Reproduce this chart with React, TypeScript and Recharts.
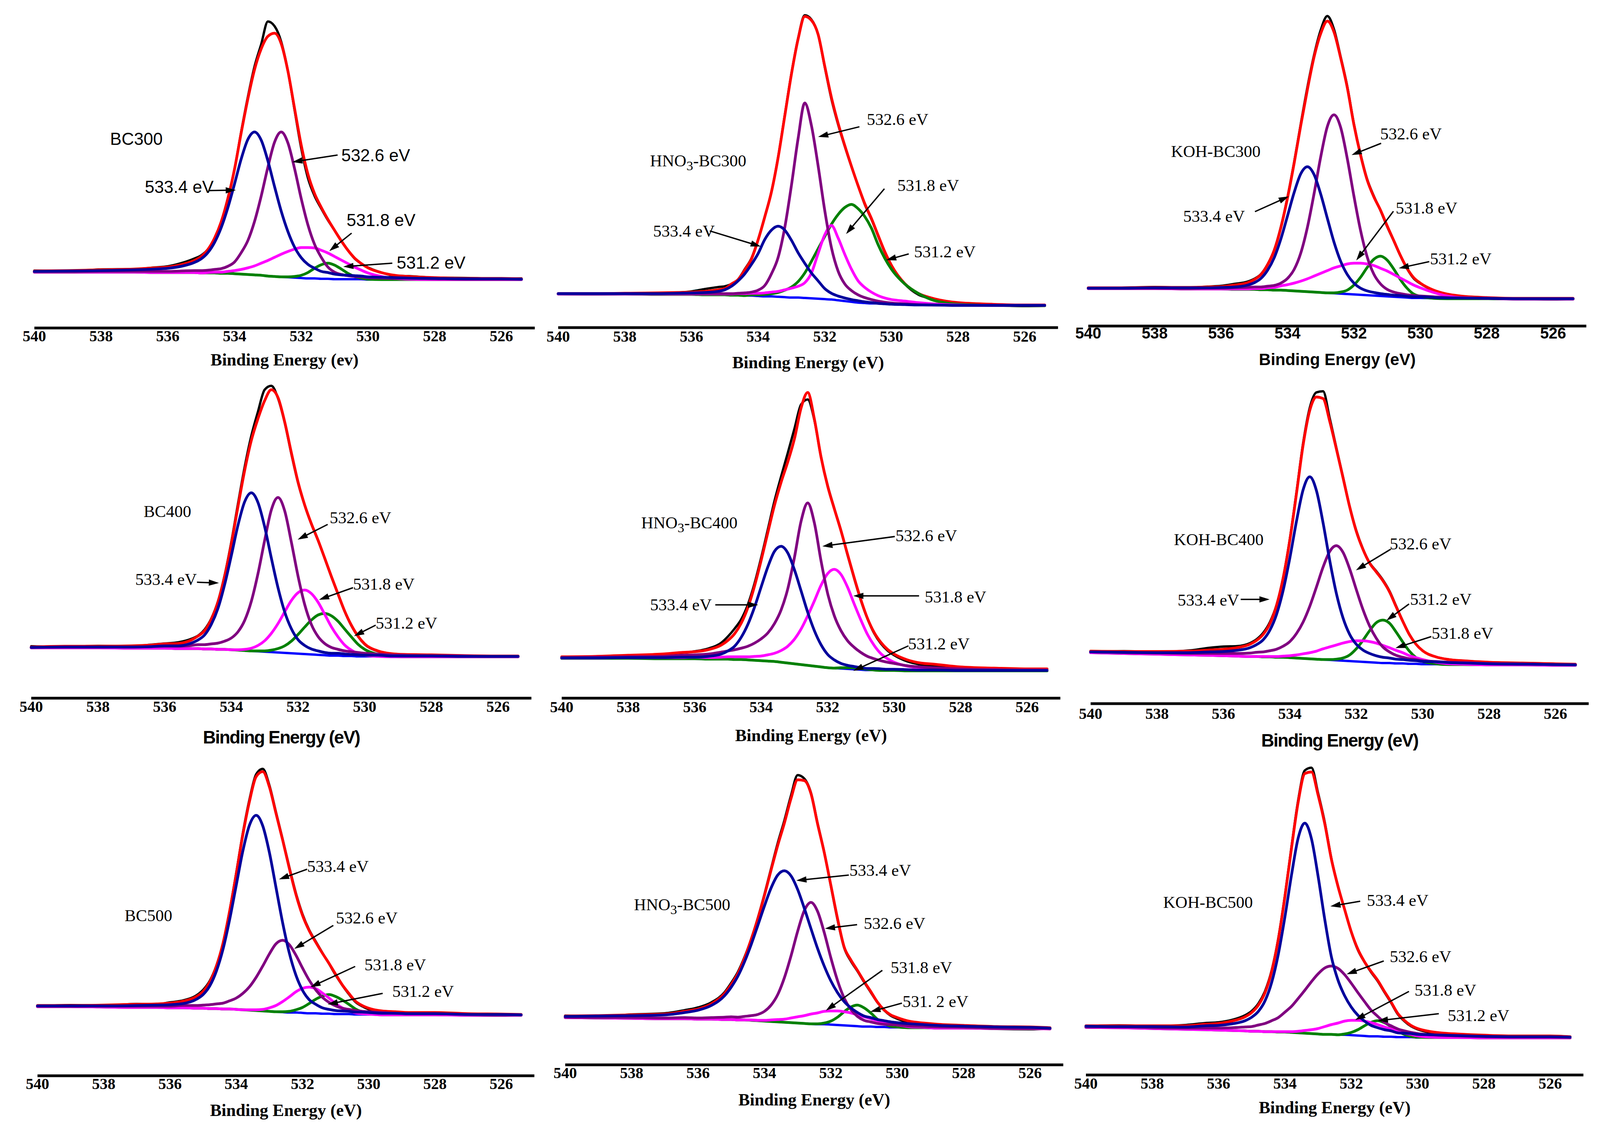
import React from 'react';
import { LineChart, Line, XAxis, YAxis, ReferenceLine, ReferenceDot } from 'recharts';

// ---------- shared axis values ----------
const X_GRID = [540, 539, 538, 537, 536.4, 536, 535.6, 535.2, 535, 534.8, 534.6, 534.4, 534.2, 534, 533.8, 533.6, 533.4, 533.2, 533, 532.8, 532.6, 532.4, 532.2, 532, 531.8, 531.6, 531.4, 531.2, 531, 530.8, 530.6, 530.4, 530.2, 530, 529.6, 529.2, 528.8, 528, 527, 526, 525.4];
const TICKS = [540, 538, 536, 534, 532, 530, 528, 526];

// ---------- BC300 ----------
const BC300_raw = [147,146,150,151,155,158,166,178,186,201,228,272,333,407,503,592,670,727,785,773,733,658,558,460,384,338,306,276,250,224,199,178,165,155,142,134,133,129,128,126,127];
const BC300_fit = [146,147,149,151,154,156,162,173,183,201,230,272,331,407,500,587,662,715,747,755,728,658,562,468,394,344,309,278,250,223,199,179,165,154,142,135,132,129,127,127,126];
const BC300_base = [143,143,143,143,142,142,142,142,141,141,141,140,140,139,138,137,136,135,133,132,131,130,129,128,127,127,126,126,125,125,125,125,125,124,124,124,124,124,124,124,124];
const BC300_c5334 = [145,146,147,149,151,153,158,168,177,193,219,257,308,369,433,483,502,481,428,362,299,247,207,180,163,153,145,142,138,136,135,134,133,131,130,129,128,127,126,126,125];
const BC300_c5326 = [144,144,145,145,145,145,146,147,147,148,150,152,158,169,193,224,273,338,412,476,502,474,408,331,264,214,181,156,143,137,134,132,131,129,128,127,127,126,125,125,125];
const BC300_c5318 = [143,143,143,143,142,142,142,142,141,142,143,143,145,147,150,154,159,166,173,181,189,196,202,206,206,205,199,192,183,174,165,156,148,141,132,127,125,124,124,124,124];
const BC300_c5312 = [143,143,143,143,142,142,142,142,141,141,141,140,140,139,138,137,136,135,133,132,131,131,132,135,142,153,162,166,161,151,140,132,128,125,124,124,124,124,124,124,124];

// ---------- HNO3-BC300 ----------
const HNO3BC300_raw = [86,85,86,88,90,93,99,104,106,112,124,150,178,226,285,349,437,545,652,742,801,790,752,668,586,521,465,413,364,316,278,235,193,158,112,85,74,62,58,55,56];
const HNO3BC300_fit = [87,87,88,89,90,91,93,97,100,112,123,148,176,225,284,348,436,543,650,740,798,788,752,670,590,524,467,414,364,318,280,237,195,160,113,88,76,64,60,58,58];
const HNO3BC300_base = [86,86,86,85,85,85,84,84,84,83,83,82,82,81,80,80,79,78,77,77,76,75,74,73,72,70,68,66,64,63,62,62,61,61,60,59,59,58,57,57,57];
const HNO3BC300_c5334 = [87,87,87,87,88,89,90,93,97,106,120,138,162,190,226,250,260,250,224,192,165,140,120,100,88,81,76,72,69,66,64,62,61,60,59,58,58,57,57,57,57];
const HNO3BC300_c5326 = [87,87,87,87,87,87,87,87,87,87,88,89,91,96,108,138,180,257,365,485,576,518,415,300,205,145,112,95,84,77,72,68,65,63,61,59,58,57,57,57,57];
const HNO3BC300_c5318 = [86,86,86,86,86,86,86,86,86,86,87,87,88,88,89,91,93,97,101,106,115,140,190,238,262,230,188,150,120,103,91,82,76,72,68,64,61,58,57,57,57];
const HNO3BC300_c5312 = [86,86,86,85,85,85,84,84,84,83,83,82,84,84,85,87,90,96,104,118,140,170,202,234,265,290,308,316,305,285,255,213,178,150,112,88,72,60,57,56,56];

// ---------- KOH-BC300 ----------
const KOHBC300_raw = [97,98,100,98,101,103,108,114,121,133,158,195,254,330,420,518,612,694,758,794,760,690,614,518,440,376,333,296,255,218,180,147,122,109,91,81,76,72,70,68,70];
const KOHBC300_fit = [98,98,99,99,100,101,105,111,119,132,157,194,252,328,417,514,606,689,749,781,753,687,611,516,438,374,331,297,257,219,181,148,124,110,92,82,77,73,71,71,71];
const KOHBC300_base = [96,96,96,95,95,95,94,94,94,93,93,92,92,91,90,89,88,87,86,85,84,83,82,81,80,79,78,77,76,75,74,73,72,72,71,70,70,70,69,69,69];
const KOHBC300_c5334 = [97,97,98,98,98,99,100,105,111,122,143,175,223,282,342,390,408,388,338,276,215,166,132,110,97,90,86,83,81,79,78,76,75,75,73,72,72,71,70,70,70];
const KOHBC300_c5326 = [97,97,97,96,97,97,98,99,100,100,102,104,110,122,145,187,253,339,433,511,541,509,429,333,245,177,133,108,94,87,83,80,78,77,75,73,72,71,70,70,70];
const KOHBC300_c5318 = [96,96,96,95,95,95,95,95,96,96,98,99,103,106,110,115,121,128,135,142,149,154,159,161,161,159,155,148,141,132,123,114,105,98,86,77,73,71,69,69,69];
const KOHBC300_c5312 = [96,96,96,95,95,95,94,94,94,93,93,92,92,91,90,89,88,87,86,85,85,87,92,105,125,150,171,179,169,146,119,97,82,76,71,70,70,70,69,69,69];

// ---------- BC400 ----------
const BC400_raw = [133,131,134,133,137,140,143,152,160,176,204,248,315,400,498,592,672,734,790,800,768,706,626,552,494,446,404,358,311,266,222,186,158,138,120,113,111,110,109,107,108];
const BC400_fit = [131,133,133,134,136,139,140,149,159,173,202,246,312,395,491,583,660,716,762,790,770,708,629,554,495,447,405,359,312,267,223,187,159,139,121,114,112,111,109,108,108];
const BC400_base = [129,129,129,128,128,128,127,127,127,126,126,125,125,124,123,122,121,120,119,118,117,116,115,114,113,112,111,110,109,109,108,108,107,107,107,106,106,106,106,106,106];
const BC400_c5334 = [130,131,131,131,132,134,134,141,149,162,189,230,291,365,443,503,526,501,439,359,283,221,178,150,135,126,121,117,115,115,113,112,111,110,110,108,108,108,107,107,107];
const BC400_c5326 = [130,131,131,131,132,133,133,135,137,137,139,141,146,154,170,199,248,319,404,482,514,480,400,313,240,189,158,140,130,125,121,119,117,115,113,111,110,109,108,107,107];
const BC400_c5318 = [129,129,129,128,128,128,127,127,127,126,126,125,125,124,124,125,128,135,147,166,191,221,250,270,277,268,246,215,183,157,136,123,114,110,107,106,106,106,106,106,106];
const BC400_c5312 = [129,129,129,128,128,128,127,127,127,126,126,125,125,124,123,122,121,121,121,123,127,134,146,163,182,200,213,217,211,197,177,157,138,125,112,107,106,106,106,106,106];

// ---------- HNO3-BC400 ----------
const HNO3BC400_raw = [104,106,108,112,116,120,127,142,158,178,202,240,294,360,432,505,568,628,690,752,765,712,618,545,486,430,366,306,250,203,166,140,122,110,94,86,82,76,72,70,72];
const HNO3BC400_fit = [106,107,110,113,117,119,124,136,148,165,192,232,287,353,424,494,553,605,664,743,783,715,618,543,485,429,368,308,252,204,168,143,125,113,98,90,87,80,77,75,75];
const HNO3BC400_base = [102,102,102,101,101,101,100,100,100,99,99,98,97,96,95,94,92,90,88,86,84,82,80,78,77,76,75,74,73,72,72,71,71,71,70,70,70,70,70,70,70];
const HNO3BC400_c5334 = [103,103,104,104,105,105,107,113,121,133,156,189,233,285,336,376,389,372,329,275,220,173,137,112,98,89,84,81,78,76,76,75,74,74,73,72,72,71,71,71,71];
const HNO3BC400_c5326 = [104,105,106,107,110,111,113,118,121,124,128,133,141,152,167,191,226,280,360,453,500,449,352,268,211,173,147,130,117,107,101,96,92,89,83,80,78,75,73,72,72];
const HNO3BC400_c5318 = [103,103,104,104,104,105,104,105,106,106,106,106,107,108,111,115,122,133,151,177,211,249,289,319,330,317,284,241,200,163,135,114,101,92,82,78,77,74,73,72,72];
const HNO3BC400_c5312 = [102,102,102,101,101,101,100,100,100,99,99,98,97,96,95,94,92,90,88,86,84,82,80,78,77,78,78,78,76,74,72,71,71,71,70,70,70,70,70,70,70];

// ---------- KOH-BC400 ----------
const KOHBC400_raw = [136,137,135,139,146,149,150,158,168,185,213,258,330,430,552,680,772,812,815,745,668,592,515,452,404,368,346,323,294,255,216,181,155,138,122,115,112,108,106,104,102];
const KOHBC400_fit = [137,136,136,137,140,142,146,155,165,181,209,256,328,427,548,675,765,800,796,737,665,590,514,450,403,367,344,321,292,253,215,180,155,138,122,115,112,108,106,104,103];
const KOHBC400_base = [133,131,129,127,126,125,124,123,123,122,122,121,121,120,119,118,117,116,115,114,113,112,111,110,109,108,107,106,106,105,105,104,104,103,103,102,102,101,101,100,100];
const KOHBC400_c5334 = [135,134,133,133,135,136,139,146,154,167,192,233,296,380,476,558,592,556,472,374,288,224,181,155,140,131,125,121,119,116,115,113,112,110,109,107,106,104,103,102,101];
const KOHBC400_c5326 = [135,133,132,131,131,131,131,132,134,135,138,142,150,162,183,213,254,304,356,397,412,395,352,298,246,203,171,148,135,126,121,117,115,112,110,108,107,105,104,102,102];
const KOHBC400_c5318 = [133,131,129,127,126,125,124,123,123,123,123,123,124,125,127,130,133,137,143,148,153,158,162,164,164,162,158,152,146,139,133,125,120,115,108,104,103,101,101,100,100];
const KOHBC400_c5312 = [133,131,129,127,126,125,124,123,123,122,122,121,121,120,119,118,117,116,115,115,116,119,127,143,165,190,211,218,210,187,161,137,120,110,104,102,102,101,101,100,100];

// ---------- BC500 ----------
const BC500_raw = [178,181,180,184,183,188,193,206,220,243,282,340,423,520,622,708,772,786,744,675,606,535,468,414,374,344,315,287,258,232,209,189,178,170,163,161,160,158,155,154,156];
const BC500_fit = [180,180,181,183,184,186,191,203,216,240,280,339,421,517,618,703,766,779,740,672,604,532,465,411,372,342,314,288,260,233,211,191,180,173,166,164,162,162,159,158,157];
const BC500_base = [177,177,176,175,175,174,174,173,173,172,172,171,171,170,169,168,167,166,165,164,163,162,162,161,160,160,159,159,158,158,158,157,157,157,156,156,156,156,155,155,155];
const BC500_c5334 = [179,179,179,180,181,182,185,196,208,230,268,324,400,488,576,642,667,640,572,482,392,315,258,219,195,183,174,170,167,166,165,163,163,162,160,160,159,159,157,157,156];
const BC500_c5326 = [178,178,178,178,178,178,180,180,181,182,184,186,192,199,211,228,252,281,312,338,347,336,309,276,245,220,201,188,179,173,170,167,165,164,162,160,159,159,157,156,156];
const BC500_c5318 = [177,177,176,175,175,174,174,173,173,172,172,171,171,170,169,169,169,170,174,180,190,202,215,224,227,223,212,199,185,174,167,161,159,158,156,156,156,156,155,155,155];
const BC500_c5312 = [177,177,176,175,175,174,174,173,173,172,172,171,171,170,169,168,167,166,165,164,164,165,169,175,185,196,204,208,203,194,183,171,164,160,156,156,156,156,155,155,155];

// ---------- HNO3-BC500 ----------
const HNO3BC500_raw = [126,124,129,132,140,147,160,186,210,238,276,322,376,437,503,568,626,690,742,733,697,619,545,458,372,300,266,240,212,186,160,140,126,118,107,103,99,96,92,91,93];
const HNO3BC500_fit = [125,126,128,130,137,143,156,183,206,234,273,321,374,434,499,562,619,682,730,728,695,617,544,460,375,302,269,242,214,188,161,141,128,121,111,107,104,101,98,97,95];
const HNO3BC500_base = [121,120,119,118,118,117,117,116,116,115,115,114,113,112,111,110,109,108,107,106,105,104,104,103,102,101,100,99,98,98,97,97,96,96,95,95,94,94,93,93,92];
const HNO3BC500_c5334 = [124,125,126,128,134,140,152,177,199,227,264,308,357,407,453,486,497,484,449,401,349,298,253,215,185,162,146,134,125,121,116,113,110,108,105,103,101,99,97,96,94];
const HNO3BC500_c5326 = [122,121,121,120,121,120,121,122,123,122,124,126,129,137,153,180,223,279,342,395,416,393,339,274,216,171,142,124,114,110,106,104,103,102,99,98,97,96,94,94,93];
const HNO3BC500_c5318 = [121,120,119,118,118,117,117,116,116,115,115,115,114,114,115,116,117,120,123,126,130,133,137,138,138,136,133,128,123,118,113,109,104,102,97,96,94,94,93,93,92];
const HNO3BC500_c5312 = [121,120,119,118,118,117,117,116,116,115,115,114,113,112,111,110,109,108,107,106,105,105,107,112,122,136,148,153,146,133,117,106,99,97,95,95,94,94,93,93,92];

// ---------- KOH-BC500 ----------
const KOHBC500_raw = [125,127,125,128,133,135,141,153,164,183,215,268,350,460,586,704,780,787,722,648,555,484,424,366,320,289,263,240,212,185,156,138,125,117,108,104,102,99,96,95,97];
const KOHBC500_fit = [126,126,126,126,130,132,138,149,160,179,211,265,347,457,582,699,772,776,717,644,553,483,424,367,322,290,265,242,214,187,158,140,127,119,111,107,105,102,100,100,98];
const KOHBC500_base = [122,121,119,117,116,115,114,113,112,112,111,111,110,110,109,108,107,106,105,104,104,103,103,102,101,100,99,99,98,98,97,97,97,96,96,96,96,95,95,95,95];
const KOHBC500_c5334 = [125,124,124,123,126,127,131,139,148,163,190,237,309,405,513,607,645,605,509,399,303,243,203,174,153,138,127,121,116,113,108,107,106,104,103,102,101,99,98,98,97];
const KOHBC500_c5326 = [123,123,121,120,120,120,121,123,124,128,132,139,147,161,176,196,217,239,259,274,279,273,257,235,211,188,166,150,135,126,118,113,109,106,103,101,100,98,97,97,96];
const KOHBC500_c5318 = [122,121,119,117,116,115,114,113,112,112,111,111,111,111,111,112,114,116,119,124,129,133,138,140,140,138,134,129,123,118,111,107,104,100,97,96,96,95,95,95,95];
const KOHBC500_c5312 = [122,121,119,117,116,115,114,113,112,112,111,111,110,110,109,108,107,106,105,104,104,103,105,109,116,126,135,139,134,124,112,104,99,97,96,96,96,95,95,95,95];

// ---------- annotations (data coordinates: eV, intensity) ----------
const BC300_labels = [['BC300', 537.73, 485], ['533.4 eV', 536.69, 362], ['532.6 eV', 530.8, 443], ['531.8 eV', 530.64, 277], ['531.2 eV', 529.14, 168]];
const BC300_arrows = [[534.77, 352, 533.96, 353], [530.91, 443, 532.27, 425], [530.49, 243, 531.16, 197], [529.27, 166, 530.74, 157]];
const HNO3BC300_labels = [['HNO3-BC300', 537.245, 429], ['532.6 eV', 530.74, 534], ['531.8 eV', 529.82, 365], ['533.4 eV', 537.15, 248], ['531.2 eV', 529.32, 195]];
const HNO3BC300_arrows = [[530.96, 515, 532.2, 489], [530.21, 356, 531.36, 240], [535.45, 248, 533.92, 208], [529.48, 189, 530.16, 173]];
const KOHBC300_labels = [['KOH-BC300', 537.51, 448], ['532.6 eV', 531.21, 493], ['533.4 eV', 537.14, 282], ['531.8 eV', 530.74, 303], ['531.2 eV', 529.71, 173]];
const KOHBC300_arrows = [[531.18, 468, 532.07, 438], [534.98, 293, 533.96, 332], [530.81, 294, 531.93, 168], [529.73, 165, 530.65, 148]];
const BC400_labels = [['BC400', 536.63, 478], ['532.6 eV', 531.05, 462], ['533.4 eV', 536.88, 304], ['531.8 eV', 530.35, 292], ['531.2 eV', 529.67, 192]];
const BC400_arrows = [[531.11, 445, 532.01, 406], [535.03, 297, 534.37, 295], [530.35, 283, 531.37, 252], [529.67, 187, 530.32, 159]];
const HNO3BC400_labels = [['HNO3-BC400', 537.61, 450], ['532.6 eV', 529.96, 417], ['533.4 eV', 537.34, 240], ['531.8 eV', 529.08, 260], ['531.2 eV', 529.58, 140]];
const HNO3BC400_arrows = [[529.98, 414, 532.16, 389], [535.38, 239, 534.09, 239], [529.25, 262, 531.23, 262], [529.57, 134, 531.23, 70]];
const KOHBC400_labels = [['KOH-BC400', 537.49, 428], ['532.6 eV', 530.99, 417], ['533.4 eV', 537.38, 270], ['531.2 eV', 530.38, 273], ['531.8 eV', 529.73, 184]];
const KOHBC400_arrows = [[530.96, 403, 532.01, 348], [535.48, 272, 534.61, 272], [530.41, 260, 531.09, 217], [529.74, 175, 530.82, 145]];
const BC500_labels = [['BC500', 537.37, 411], ['533.4 eV', 531.86, 537], ['532.6 eV', 530.99, 405], ['531.8 eV', 530.13, 285], ['531.2 eV', 529.29, 217]];
const BC500_arrows = [[531.86, 529, 532.71, 503], [531.07, 385, 532.25, 325], [530.41, 280, 531.76, 227], [529.58, 211, 531.24, 183]];
const HNO3BC500_labels = [['HNO3-BC500', 537.93, 411], ['533.4 eV', 531.44, 499], ['532.6 eV', 531.01, 363], ['531.8 eV', 530.2, 250], ['531. 2 eV', 529.84, 163]];
const HNO3BC500_arrows = [[531.46, 486, 533.04, 472], [531.21, 359, 532.18, 349], [530.45, 242, 532.15, 139], [529.86, 158, 530.81, 136]];
const KOHBC500_labels = [['KOH-BC500', 537.67, 443], ['533.4 eV', 531.53, 448], ['532.6 eV', 530.84, 304], ['531.8 eV', 530.09, 218], ['531.2 eV', 529.09, 153]];
const KOHBC500_arrows = [[531.73, 445, 532.63, 432], [531.02, 292, 532.14, 258], [530.26, 214, 531.88, 141], [529.36, 157, 531.2, 139]];

// ---------- styles / layout ----------
const SERIF = '"Liberation Serif", "Times New Roman", Times, serif';
const SANS = '"Liberation Sans", Arial, Helvetica, sans-serif';
const Y_MAX = 800;
const ML = 70, MR = 70, MT = 10, XH = 140;

const SERIES_STYLE = [
  { key: 'raw', color: '#000000', width: 6 },
  { key: 'fit', color: '#ff0000', width: 7 },
  { key: 'base', color: '#0000ff', width: 6 },
  { key: 'c5312', color: '#008000', width: 7 },
  { key: 'c5318', color: '#ff00ff', width: 7 },
  { key: 'c5326', color: '#800080', width: 7 },
  { key: 'c5334', color: '#00009c', width: 7 },
];

const mk = (raw: number[], fit: number[], base: number[], c5334: number[], c5326: number[], c5318: number[], c5312: number[]) =>
  X_GRID.map((x, i) => ({ x, raw: raw[i], fit: fit[i], base: base[i], c5334: c5334[i], c5326: c5326[i], c5318: c5318[i], c5312: c5312[i] }));

const PANELS = [
  { rows: mk(BC300_raw, BC300_fit, BC300_base, BC300_c5334, BC300_c5326, BC300_c5318, BC300_c5312), labels: BC300_labels, arrows: BC300_arrows,
    x540: 87.5, ppe: 85.4, axisY: 840, tickFont: SERIF, tickDy: 20, title: 'Binding Energy (ev)', titleFont: SERIF, titleSize: 44, titleLs: 0, titleDy: 81, labelFont: SANS, labelSize: 44 },
  { rows: mk(HNO3BC300_raw, HNO3BC300_fit, HNO3BC300_base, HNO3BC300_c5334, HNO3BC300_c5326, HNO3BC300_c5318, HNO3BC300_c5312), labels: HNO3BC300_labels, arrows: HNO3BC300_arrows,
    x540: 1429, ppe: 85.3, axisY: 839, tickFont: SERIF, tickDy: 22, title: 'Binding Energy (eV)', titleFont: SERIF, titleSize: 44, titleLs: 0, titleDy: 89, labelFont: SERIF, labelSize: 43 },
  { rows: mk(KOHBC300_raw, KOHBC300_fit, KOHBC300_base, KOHBC300_c5334, KOHBC300_c5326, KOHBC300_c5318, KOHBC300_c5312), labels: KOHBC300_labels, arrows: KOHBC300_arrows,
    x540: 2786, ppe: 85.0, axisY: 835, tickFont: SANS, tickDy: 18, title: 'Binding Energy (eV)', titleFont: SANS, titleSize: 42, titleLs: 0, titleDy: 85, labelFont: SERIF, labelSize: 43 },
  { rows: mk(BC400_raw, BC400_fit, BC400_base, BC400_c5334, BC400_c5326, BC400_c5318, BC400_c5312), labels: BC400_labels, arrows: BC400_arrows,
    x540: 80, ppe: 85.36, axisY: 1788, tickFont: SERIF, tickDy: 22, title: 'Binding Energy (eV)', titleFont: SANS, titleSize: 46, titleLs: -2, titleDy: 100, labelFont: SERIF, labelSize: 43 },
  { rows: mk(HNO3BC400_raw, HNO3BC400_fit, HNO3BC400_base, HNO3BC400_c5334, HNO3BC400_c5326, HNO3BC400_c5318, HNO3BC400_c5312), labels: HNO3BC400_labels, arrows: HNO3BC400_arrows,
    x540: 1438, ppe: 85.1, axisY: 1788, tickFont: SERIF, tickDy: 22, title: 'Binding Energy (eV)', titleFont: SERIF, titleSize: 44, titleLs: 0, titleDy: 95, labelFont: SERIF, labelSize: 43 },
  { rows: mk(KOHBC400_raw, KOHBC400_fit, KOHBC400_base, KOHBC400_c5334, KOHBC400_c5326, KOHBC400_c5318, KOHBC400_c5312), labels: KOHBC400_labels, arrows: KOHBC400_arrows,
    x540: 2792, ppe: 85.0, axisY: 1802, tickFont: SERIF, tickDy: 25, title: 'Binding Energy (eV)', titleFont: SANS, titleSize: 46, titleLs: -2, titleDy: 94, labelFont: SERIF, labelSize: 43 },
  { rows: mk(BC500_raw, BC500_fit, BC500_base, BC500_c5334, BC500_c5326, BC500_c5318, BC500_c5312), labels: BC500_labels, arrows: BC500_arrows,
    x540: 96, ppe: 84.8, axisY: 2755, tickFont: SERIF, tickDy: 20, title: 'Binding Energy (eV)', titleFont: SERIF, titleSize: 44, titleLs: 0, titleDy: 88, labelFont: SERIF, labelSize: 43 },
  { rows: mk(HNO3BC500_raw, HNO3BC500_fit, HNO3BC500_base, HNO3BC500_c5334, HNO3BC500_c5326, HNO3BC500_c5318, HNO3BC500_c5312), labels: HNO3BC500_labels, arrows: HNO3BC500_arrows,
    x540: 1447, ppe: 85.0, axisY: 2727, tickFont: SERIF, tickDy: 20, title: 'Binding Energy (eV)', titleFont: SERIF, titleSize: 44, titleLs: 0, titleDy: 89, labelFont: SERIF, labelSize: 43 },
  { rows: mk(KOHBC500_raw, KOHBC500_fit, KOHBC500_base, KOHBC500_c5334, KOHBC500_c5326, KOHBC500_c5318, KOHBC500_c5312), labels: KOHBC500_labels, arrows: KOHBC500_arrows,
    x540: 2780, ppe: 84.9, axisY: 2753, tickFont: SERIF, tickDy: 21, title: 'Binding Energy (eV)', titleFont: SERIF, titleSize: 44, titleLs: 0, titleDy: 83, labelFont: SERIF, labelSize: 43 },
];

function Tick(props: any) {
  const { x, y, payload, tf, toff } = props;
  return (
    <text x={x} y={y + toff} textAnchor="middle" dominantBaseline="central" fontFamily={tf} fontWeight="bold" fontSize={40} fill="#000">
      {payload && payload.value}
    </text>
  );
}

function AxisTitle(props: any) {
  const vb = props.viewBox || {};
  const x = (vb.x || 0) + (vb.width || 0) / 2;
  const y = (vb.y || 0) + props.off;
  return (
    <text x={x} y={y} textAnchor="middle" dominantBaseline="central" fontFamily={props.ff} fontWeight="bold" fontSize={props.fs} letterSpacing={props.ls} fill="#000">
      {props.text}
    </text>
  );
}

function Arrow(p: any) {
  const { x1, y1, x2, y2 } = p;
  if (![x1, y1, x2, y2].every((v) => typeof v === 'number' && isFinite(v))) return null;
  const dx = x2 - x1, dy = y2 - y1;
  const len = Math.hypot(dx, dy) || 1;
  const ux = dx / len, uy = dy / len;
  const HL = 26, HW = 8;
  const bx = x2 - ux * HL, by = y2 - uy * HL;
  const pts = `${x2},${y2} ${bx - uy * HW},${by + ux * HW} ${bx + uy * HW},${by - ux * HW}`;
  return (
    <g>
      <line x1={x1} y1={y1} x2={bx + ux * 2} y2={by + uy * 2} stroke="#000" strokeWidth={3.5} />
      <polygon points={pts} fill="#000" />
    </g>
  );
}

function LabelText({ cx, cy, text, ff, fs }: any) {
  if (typeof cx !== 'number' || typeof cy !== 'number') return null;
  const m = /^HNO3(.*)$/.exec(text);
  return (
    <text x={cx} y={cy} textAnchor="start" dominantBaseline="central" fontFamily={ff} fontSize={fs} fill="#000">
      {m ? (
        <>
          <tspan>HNO</tspan>
          <tspan fontSize={fs * 0.8} dy={13}>3</tspan>
          <tspan dy={-13}>{m[1]}</tspan>
        </>
      ) : text}
    </text>
  );
}

function Panel({ cfg }: { cfg: any }) {
  const plotW = 15 * cfg.ppe;
  const width = plotW + ML + MR;
  const height = MT + Y_MAX + XH;
  const left = cfg.x540 - ML;
  const top = cfg.axisY - Y_MAX - MT;
  return (
    <div style={{ position: 'absolute', left, top, width, height }}>
      <LineChart width={width} height={height} data={cfg.rows} margin={{ top: MT, right: MR, left: ML, bottom: 0 }}>
        <XAxis
          dataKey="x"
          type="number"
          domain={[525, 540]}
          reversed
          ticks={TICKS}
          interval={0}
          height={XH}
          tickSize={0}
          tickMargin={0}
          tickLine={false}
          axisLine={{ stroke: '#000', strokeWidth: 7 }}
          tick={<Tick tf={cfg.tickFont} toff={cfg.tickDy} />}
          label={<AxisTitle text={cfg.title} ff={cfg.titleFont} fs={cfg.titleSize} ls={cfg.titleLs} off={cfg.titleDy} />}
        />
        <YAxis hide type="number" domain={[0, Y_MAX]} />
        {SERIES_STYLE.map((s) => (
          <Line key={s.key} dataKey={s.key} type="monotone" stroke={s.color} strokeWidth={s.width} dot={false} activeDot={false} isAnimationActive={false} strokeLinejoin="round" strokeLinecap="round" />
        ))}
        {cfg.arrows.map((a: number[], i: number) => (
          <ReferenceLine key={'a' + i} segment={[{ x: a[0], y: a[1] }, { x: a[2], y: a[3] }]} ifOverflow="visible" shape={(p: any) => <Arrow {...p} />} />
        ))}
        {cfg.labels.map((l: any[], i: number) => (
          <ReferenceDot key={'l' + i} x={l[1]} y={l[2]} r={0} ifOverflow="visible" shape={(p: any) => <LabelText cx={p.cx} cy={p.cy} text={l[0]} ff={cfg.labelFont} fs={cfg.labelSize} />} />
        ))}
      </LineChart>
    </div>
  );
}

export default function App() {
  return (
    <div style={{ position: 'absolute', left: 0, top: 0, width: 4119, height: 2899, background: '#fff', overflow: 'hidden' }}>
      {PANELS.map((p, i) => (
        <Panel key={i} cfg={p} />
      ))}
    </div>
  );
}
